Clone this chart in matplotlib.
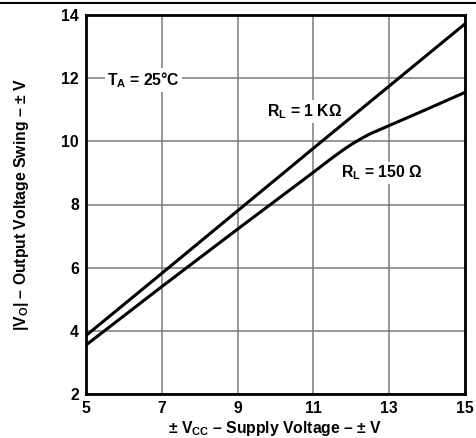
import matplotlib
matplotlib.use("Agg")
import matplotlib.pyplot as plt
from matplotlib.lines import Line2D

plt.rcParams['font.family'] = ['Liberation Sans', 'DejaVu Sans']
plt.rcParams['font.weight'] = 'bold'
plt.rcParams['mathtext.fontset'] = 'custom'
plt.rcParams['mathtext.rm'] = 'Liberation Sans:bold'
plt.rcParams['mathtext.it'] = 'Liberation Sans:bold'
plt.rcParams['mathtext.bf'] = 'Liberation Sans:bold'
plt.rcParams['mathtext.sf'] = 'Liberation Sans:bold'
plt.rcParams['mathtext.default'] = 'rm'

vcc = [5, 7, 9, 11, 13, 15]
vo_1k = [3.85, 5.82, 7.8, 9.78, 11.75, 13.72]

vcc_150 = [5, 7, 9, 11, 11.5, 11.8, 12.0, 12.25, 12.5, 13, 14, 15]
vo_150 = [3.55, 5.4, 7.22, 9.02, 9.48, 9.74, 9.9, 10.08, 10.24, 10.5, 11.02, 11.55]

xticks = [5, 7, 9, 11, 13, 15]
yticks = [2, 4, 6, 8, 10, 12, 14]

fs = 11.3

fig = plt.figure(figsize=(4.77, 4.38), dpi=100)
ax = fig.add_axes([86/477, 1-394/438, (465-86)/477, (394-15)/438])

ax.plot(vcc, vo_1k, color='black', lw=2.2, zorder=3)
ax.plot(vcc_150, vo_150, color='black', lw=2.2, zorder=3)

ax.set_xlim(5, 15)
ax.set_ylim(2, 14)
ax.set_xticks(xticks)
ax.set_yticks(yticks)
ax.grid(True, color='#7a7a7a', lw=1.1, zorder=1)
ax.set_axisbelow(True)
ax.tick_params(length=0, labelsize=fs, pad=5)
for lab in ax.get_xticklabels() + ax.get_yticklabels():
    lab.set_fontweight('bold')
for s in ax.spines.values():
    s.set_linewidth(2)
    s.set_color('black')

bbox = dict(facecolor='white', edgecolor='none', pad=1.5)
ax.text(5.55, 11.95, r'$T_A$ = 25°C', fontsize=fs, fontweight='bold', va='center', ha='left', bbox=bbox, zorder=2)
ax.text(9.78, 10.95, r'$R_L$ = 1 KΩ', fontsize=fs, fontweight='bold', va='center', ha='left', bbox=bbox, zorder=2)
ax.text(11.73, 9.0, r'$R_L$ = 150 Ω', fontsize=fs, fontweight='bold', va='center', ha='left', bbox=bbox, zorder=2)

ax.set_xlabel(r'± $V_{CC}$ – Supply Voltage – ± V', fontsize=fs, fontweight='bold', labelpad=2)
ax.set_ylabel(r'|$V_O$| – Output Voltage Swing – ± V', fontsize=fs, fontweight='bold', labelpad=22)

fig.add_artist(Line2D([0, 1], [1-3/438, 1-3/438], color='black', lw=1.5, transform=fig.transFigure))

fig.savefig('out.png', dpi=100)
